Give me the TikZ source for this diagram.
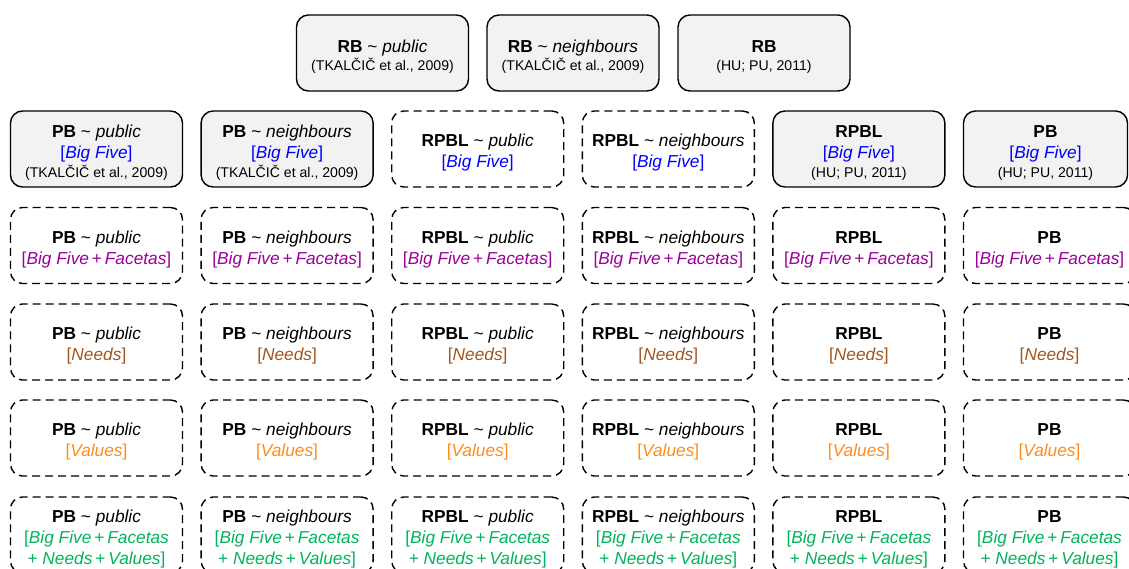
\documentclass[tikz,border=0pt]{standalone}
\usepackage{fontspec}
\setmainfont{Liberation Sans}

\definecolor{boxgrey}{HTML}{F2F2F2}
\definecolor{tagblue}{HTML}{0000FF}
\definecolor{tagpurple}{HTML}{990099}
\definecolor{tagbrown}{HTML}{A0561E}
\definecolor{tagorange}{HTML}{FF8C1A}
\definecolor{taggreen}{HTML}{00B35C}

% extra room above the first line, which moves the text block down a little
\newcommand\lift{\rule{0pt}{20pt}}
% heading of a cell: model ~ neighbourhood
\newcommand\modelhead[2]{\lift\textbf{#1} \textasciitilde{} \textit{#2}}
% source reference in smaller type, set a little closer to the line above
\newcommand\srcref[1]{\\[-2.5pt]{\fontsize{14.1}{17}\selectfont #1}}
% trait tags
\newcommand\tagbig{\textcolor{tagblue}{[\textit{Big Five}]}}
\newcommand\tagfac{\textcolor{tagpurple}{[\textit{Big Five}\,+\,\textit{Facetas}]}}
\newcommand\tagneeds{\textcolor{tagbrown}{[\textit{Needs}]}}
\newcommand\tagvalues{\textcolor{tagorange}{[\textit{Values}]}}
\newcommand\tagallA{\textcolor{taggreen}{[\textit{Big Five}\,+\,\textit{Facetas}}}
\newcommand\tagallB{\textcolor{taggreen}{+ \textit{Needs}\,+\,\textit{Values}]}}

% column headings
\newcommand\colhead[1]{\ifcase#1\or
  \modelhead{PB}{public}\or
  \modelhead{PB}{neighbours}\or
  \modelhead{RPBL}{public}\or
  \modelhead{RPBL}{neighbours}\or
  \lift\textbf{RPBL}\or
  \lift\textbf{PB}\fi}

\begin{document}
\begin{tikzpicture}[x=1pt,y=-1pt,
  cell/.style={draw=black, line width=1.4pt, rounded corners=12pt,
    minimum width=172pt, minimum height=76pt, inner sep=0pt,
    align=center, font=\fontsize{17.3}{21}\selectfont},
  known/.style={cell, fill=boxgrey},
  open/.style={cell, dash pattern=on 8pt off 5pt}]

\useasboundingbox (0,0) rectangle (1129,568);
\clip (0,0) rectangle (1129,568);

% published baselines
\node[known] (rbpub) at (382.5,53) {\modelhead{RB}{public}\srcref{(TKALČIČ et al., 2009)}};
\node[known] (rbnei) at (573,53) {\modelhead{RB}{neighbours}\srcref{(TKALČIČ et al., 2009)}};
\node[known] (rbhu) at (764,53) {\lift\textbf{RB}\srcref{(HU; PU, 2011)}};

% Big Five row
\node[known] (c1r2) at (96.5,149) {\colhead{1}\\\tagbig\srcref{(TKALČIČ et al., 2009)}};
\node[known] (c2r2) at (287.1,149) {\colhead{2}\\\tagbig\srcref{(TKALČIČ et al., 2009)}};
\node[open] (c3r2) at (477.7,149) {\colhead{3}\\\tagbig};
\node[open] (c4r2) at (668.3,149) {\colhead{4}\\\tagbig};
\node[known] (c5r2) at (858.9,149) {\colhead{5}\\\tagbig\srcref{(HU; PU, 2011)}};
\node[known, minimum width=164pt] (c6r2) at (1045.5,149) {\colhead{6}\\\tagbig\srcref{(HU; PU, 2011)}};

% remaining trait combinations
\foreach \i in {1,...,6}{
  \pgfmathsetmacro\cx{96.5+190.6*(\i-1)}
  \node[open] (c\i r3) at (\cx,245.5) {\colhead{\i}\\\tagfac};
  \node[open] (c\i r4) at (\cx,342) {\colhead{\i}\\\tagneeds};
  \node[open] (c\i r5) at (\cx,438) {\colhead{\i}\\\tagvalues};
  \node[open] (c\i r6) at (\cx,535) {\colhead{\i}\\\tagallA\\\tagallB};
}
\end{tikzpicture}
\end{document}
